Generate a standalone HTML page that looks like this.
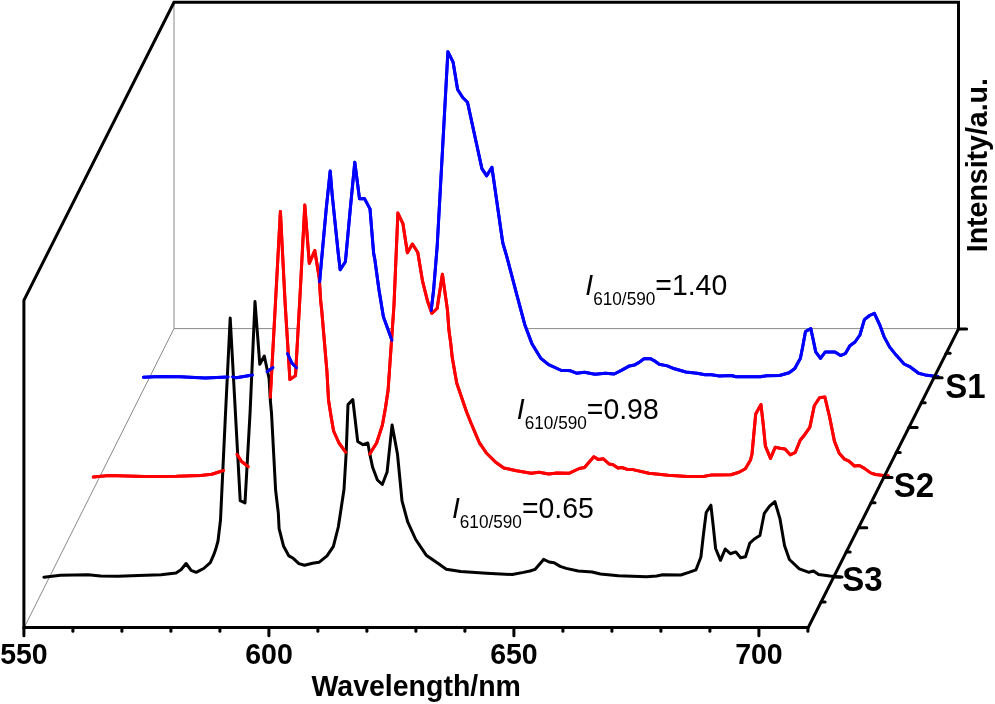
<!DOCTYPE html>
<html><head><meta charset="utf-8"><title>Emission spectra</title>
<style>html,body{margin:0;padding:0;background:#fff}svg{display:block}</style></head>
<body>
<svg width="995" height="704" viewBox="0 0 995 704">
<rect width="995" height="704" fill="#fff"/>
<g stroke="#8a8a8a" stroke-width="1" fill="none">
<line x1="174" y1="2" x2="174" y2="328.6"/>
<line x1="174" y1="328.6" x2="958.5" y2="328.6"/>
<line x1="174" y1="328.6" x2="24.2" y2="627.5"/>
</g>
<polygon points="143.4,377.2 143.4,377.2 160.0,376.5 180.0,376.8 205.0,378.0 228.2,376.9 232.5,376.9 236.3,377.7 252.5,375.1 260.0,374.5 267.0,371.7 273.0,367.5 279.0,358.0 283.0,350.5 285.5,349.5 287.5,353.6 291.6,362.7 296.5,367.7 302.0,367.0 308.0,360.0 313.0,340.0 317.0,310.0 319.6,281.8 322.2,253.0 326.2,209.1 330.2,170.9 332.2,195.0 338.2,253.0 340.2,269.8 345.4,261.7 350.0,212.0 354.8,162.2 359.5,198.7 364.5,198.6 370.0,208.9 373.6,253.0 374.8,259.3 379.0,290.0 383.4,316.8 391.9,340.2 400.0,350.0 410.0,355.0 420.0,350.0 427.0,335.0 431.2,310.4 433.6,290.0 437.2,246.0 443.0,141.0 447.9,51.7 453.1,62.2 457.6,89.5 462.7,97.5 467.5,102.3 472.3,124.4 477.1,146.5 481.9,168.6 486.7,175.8 491.9,167.3 500.9,230.0 502.8,243.0 507.0,257.3 516.7,294.3 524.9,325.0 531.8,343.4 540.6,358.1 548.6,364.6 561.5,370.5 567.9,370.5 570.0,370.7 576.4,373.2 584.5,372.3 594.9,374.3 605.4,373.2 614.2,374.0 621.4,370.4 629.5,365.9 634.3,365.1 639.1,362.4 644.0,358.7 650.4,358.7 654.4,360.8 659.2,364.3 667.3,365.9 674.5,368.8 685.8,372.0 697.0,373.2 705.0,374.8 711.5,374.8 719.5,375.9 731.3,375.5 736.1,376.8 760.2,376.8 766.6,375.7 779.5,375.5 789.1,372.8 794.8,368.5 800.4,358.3 802.8,346.3 805.5,331.5 810.8,328.6 813.2,339.8 815.7,351.9 820.5,358.3 825.3,351.9 835.0,351.9 840.6,355.6 845.4,353.5 849.9,345.7 855.0,342.0 859.9,335.0 864.4,319.7 869.5,315.5 874.4,313.3 880.0,325.5 884.0,336.6 889.7,347.1 896.1,355.1 904.1,364.0 910.6,367.2 918.6,373.3 925.0,374.9 933.1,376.0 938.0,376.4 938.0,377.2" fill="#fff" stroke="none"/>
<polyline points="143.4,377.2 160.0,376.5 180.0,376.8 205.0,378.0 228.2,376.9 232.5,376.9 236.3,377.7 252.5,375.1 260.0,374.5 267.0,371.7 273.0,367.5 279.0,358.0 283.0,350.5 285.5,349.5 287.5,353.6 291.6,362.7 296.5,367.7 302.0,367.0 308.0,360.0 313.0,340.0 317.0,310.0 319.6,281.8 322.2,253.0 326.2,209.1 330.2,170.9 332.2,195.0 338.2,253.0 340.2,269.8 345.4,261.7 350.0,212.0 354.8,162.2 359.5,198.7 364.5,198.6 370.0,208.9 373.6,253.0 374.8,259.3 379.0,290.0 383.4,316.8 391.9,340.2 400.0,350.0 410.0,355.0 420.0,350.0 427.0,335.0 431.2,310.4 433.6,290.0 437.2,246.0 443.0,141.0 447.9,51.7 453.1,62.2 457.6,89.5 462.7,97.5 467.5,102.3 472.3,124.4 477.1,146.5 481.9,168.6 486.7,175.8 491.9,167.3 500.9,230.0 502.8,243.0 507.0,257.3 516.7,294.3 524.9,325.0 531.8,343.4 540.6,358.1 548.6,364.6 561.5,370.5 567.9,370.5 570.0,370.7 576.4,373.2 584.5,372.3 594.9,374.3 605.4,373.2 614.2,374.0 621.4,370.4 629.5,365.9 634.3,365.1 639.1,362.4 644.0,358.7 650.4,358.7 654.4,360.8 659.2,364.3 667.3,365.9 674.5,368.8 685.8,372.0 697.0,373.2 705.0,374.8 711.5,374.8 719.5,375.9 731.3,375.5 736.1,376.8 760.2,376.8 766.6,375.7 779.5,375.5 789.1,372.8 794.8,368.5 800.4,358.3 802.8,346.3 805.5,331.5 810.8,328.6 813.2,339.8 815.7,351.9 820.5,358.3 825.3,351.9 835.0,351.9 840.6,355.6 845.4,353.5 849.9,345.7 855.0,342.0 859.9,335.0 864.4,319.7 869.5,315.5 874.4,313.3 880.0,325.5 884.0,336.6 889.7,347.1 896.1,355.1 904.1,364.0 910.6,367.2 918.6,373.3 925.0,374.9 933.1,376.0 938.0,376.4" fill="none" stroke="#0000ff" stroke-width="3" stroke-linejoin="round" stroke-linecap="round"/>

<polygon points="93.3,477.1 93.3,477.1 108.9,475.5 144.3,476.6 176.5,476.3 200.6,475.5 211.8,474.3 223.6,470.5 228.0,466.0 232.0,460.0 236.9,454.3 241.6,461.5 248.4,466.7 252.0,465.0 256.0,461.0 261.0,452.0 264.0,440.0 267.0,420.0 270.3,397.3 275.4,304.0 280.4,211.4 285.1,303.0 289.9,379.6 295.5,375.6 300.0,296.0 304.8,205.0 309.3,263.3 314.8,250.5 319.3,278.6 320.6,300.0 321.7,310.0 327.0,372.3 328.5,400.0 331.0,416.0 333.6,431.0 339.0,443.0 345.8,452.4 352.0,460.0 360.0,462.0 369.6,454.1 376.6,443.0 382.3,425.4 385.5,407.7 388.1,390.0 394.0,305.0 397.9,213.1 402.9,223.6 407.4,252.7 412.4,244.0 417.8,252.5 422.6,281.4 427.4,300.7 431.8,313.3 437.1,308.5 442.4,274.2 447.5,310.4 448.9,330.0 450.7,343.0 452.2,357.3 456.7,383.1 466.6,412.0 471.0,423.0 475.6,433.8 479.5,443.0 481.3,445.5 486.1,452.7 495.7,462.3 503.8,468.0 516.6,470.7 531.1,473.3 539.1,472.3 548.8,473.9 556.8,473.1 568.9,473.3 579.3,468.5 584.5,467.5 593.8,456.7 598.6,459.6 603.4,458.8 609.1,464.0 613.1,464.8 617.9,468.0 621.9,467.5 628.0,469.6 632.9,469.6 648.9,473.3 668.2,475.2 687.5,476.5 703.6,476.5 711.6,474.9 730.9,474.7 739.0,472.3 745.4,468.8 750.5,460.0 752.0,454.0 755.7,414.0 761.0,404.6 763.3,425.2 765.4,446.1 770.5,458.4 775.3,447.2 780.0,448.2 785.0,449.1 790.2,454.8 795.3,452.3 800.2,440.3 804.7,434.7 809.8,427.4 814.3,405.7 819.5,397.7 824.8,396.9 829.6,417.0 834.4,441.1 839.2,453.2 844.1,458.8 848.9,461.2 854.5,466.0 859.3,465.5 864.1,468.1 870.6,472.9 875.4,474.5 883.4,475.6 888.3,475.7 888.3,477.1" fill="#fff" stroke="none"/>
<polyline points="93.3,477.1 108.9,475.5 144.3,476.6 176.5,476.3 200.6,475.5 211.8,474.3 223.6,470.5 228.0,466.0 232.0,460.0 236.9,454.3 241.6,461.5 248.4,466.7 252.0,465.0 256.0,461.0 261.0,452.0 264.0,440.0 267.0,420.0 270.3,397.3 275.4,304.0 280.4,211.4 285.1,303.0 289.9,379.6 295.5,375.6 300.0,296.0 304.8,205.0 309.3,263.3 314.8,250.5 319.3,278.6 320.6,300.0 321.7,310.0 327.0,372.3 328.5,400.0 331.0,416.0 333.6,431.0 339.0,443.0 345.8,452.4 352.0,460.0 360.0,462.0 369.6,454.1 376.6,443.0 382.3,425.4 385.5,407.7 388.1,390.0 394.0,305.0 397.9,213.1 402.9,223.6 407.4,252.7 412.4,244.0 417.8,252.5 422.6,281.4 427.4,300.7 431.8,313.3 437.1,308.5 442.4,274.2 447.5,310.4 448.9,330.0 450.7,343.0 452.2,357.3 456.7,383.1 466.6,412.0 471.0,423.0 475.6,433.8 479.5,443.0 481.3,445.5 486.1,452.7 495.7,462.3 503.8,468.0 516.6,470.7 531.1,473.3 539.1,472.3 548.8,473.9 556.8,473.1 568.9,473.3 579.3,468.5 584.5,467.5 593.8,456.7 598.6,459.6 603.4,458.8 609.1,464.0 613.1,464.8 617.9,468.0 621.9,467.5 628.0,469.6 632.9,469.6 648.9,473.3 668.2,475.2 687.5,476.5 703.6,476.5 711.6,474.9 730.9,474.7 739.0,472.3 745.4,468.8 750.5,460.0 752.0,454.0 755.7,414.0 761.0,404.6 763.3,425.2 765.4,446.1 770.5,458.4 775.3,447.2 780.0,448.2 785.0,449.1 790.2,454.8 795.3,452.3 800.2,440.3 804.7,434.7 809.8,427.4 814.3,405.7 819.5,397.7 824.8,396.9 829.6,417.0 834.4,441.1 839.2,453.2 844.1,458.8 848.9,461.2 854.5,466.0 859.3,465.5 864.1,468.1 870.6,472.9 875.4,474.5 883.4,475.6 888.3,475.7" fill="none" stroke="#ff0000" stroke-width="3" stroke-linejoin="round" stroke-linecap="round"/>

<polygon points="43.9,577.3 43.9,577.2 60.4,575.3 88.0,574.8 100.6,576.0 118.2,576.3 138.3,575.5 161.0,574.8 176.0,573.0 181.0,569.8 186.1,563.5 191.1,570.3 196.2,572.3 200.0,570.4 203.7,568.5 210.3,562.6 213.8,554.7 216.1,547.9 218.0,541.0 220.5,520.0 225.3,418.0 230.2,318.0 235.2,409.0 240.2,500.7 245.0,502.9 250.1,412.0 255.0,301.6 259.8,364.3 264.3,356.0 269.1,378.8 270.3,400.0 271.5,413.0 275.6,490.0 278.3,513.0 279.1,528.6 283.6,546.3 288.9,555.9 293.2,558.3 298.9,563.6 304.5,565.2 312.5,563.2 319.0,562.3 327.0,555.9 333.4,546.3 338.3,527.0 341.2,508.0 344.0,489.5 346.2,452.5 348.0,404.6 352.8,399.5 357.7,441.4 363.0,444.7 367.8,443.0 370.2,455.9 372.6,467.2 377.4,480.0 382.3,484.5 387.1,472.0 389.8,446.3 392.1,425.0 397.5,454.3 400.0,480.0 402.0,500.9 407.7,521.8 415.7,539.5 426.2,555.2 438.2,563.6 446.3,569.2 460.7,571.6 486.5,573.2 512.2,574.5 523.4,572.4 530.0,571.0 535.0,569.4 543.6,559.4 549.1,562.0 554.1,562.8 560.2,566.4 566.2,568.4 578.2,571.0 592.3,572.0 600.4,574.0 618.4,575.8 646.6,576.8 656.6,576.0 662.7,574.8 680.8,575.0 688.8,572.4 696.0,569.8 700.9,557.0 703.5,534.0 706.2,512.5 710.9,505.2 713.3,526.6 715.6,548.5 720.5,560.3 725.2,549.0 730.3,553.7 735.8,551.9 740.6,557.8 745.5,556.7 749.8,543.1 754.3,539.0 759.9,535.5 764.3,513.3 769.6,506.1 774.9,501.6 780.0,518.9 784.5,545.5 789.4,559.5 799.3,568.8 809.0,572.3 813.5,570.9 818.6,574.4 829.9,576.0 834.7,576.5 840.0,577.0 840.0,577.3" fill="#fff" stroke="none"/>
<polyline points="43.9,577.2 60.4,575.3 88.0,574.8 100.6,576.0 118.2,576.3 138.3,575.5 161.0,574.8 176.0,573.0 181.0,569.8 186.1,563.5 191.1,570.3 196.2,572.3 200.0,570.4 203.7,568.5 210.3,562.6 213.8,554.7 216.1,547.9 218.0,541.0 220.5,520.0 225.3,418.0 230.2,318.0 235.2,409.0 240.2,500.7 245.0,502.9 250.1,412.0 255.0,301.6 259.8,364.3 264.3,356.0 269.1,378.8 270.3,400.0 271.5,413.0 275.6,490.0 278.3,513.0 279.1,528.6 283.6,546.3 288.9,555.9 293.2,558.3 298.9,563.6 304.5,565.2 312.5,563.2 319.0,562.3 327.0,555.9 333.4,546.3 338.3,527.0 341.2,508.0 344.0,489.5 346.2,452.5 348.0,404.6 352.8,399.5 357.7,441.4 363.0,444.7 367.8,443.0 370.2,455.9 372.6,467.2 377.4,480.0 382.3,484.5 387.1,472.0 389.8,446.3 392.1,425.0 397.5,454.3 400.0,480.0 402.0,500.9 407.7,521.8 415.7,539.5 426.2,555.2 438.2,563.6 446.3,569.2 460.7,571.6 486.5,573.2 512.2,574.5 523.4,572.4 530.0,571.0 535.0,569.4 543.6,559.4 549.1,562.0 554.1,562.8 560.2,566.4 566.2,568.4 578.2,571.0 592.3,572.0 600.4,574.0 618.4,575.8 646.6,576.8 656.6,576.0 662.7,574.8 680.8,575.0 688.8,572.4 696.0,569.8 700.9,557.0 703.5,534.0 706.2,512.5 710.9,505.2 713.3,526.6 715.6,548.5 720.5,560.3 725.2,549.0 730.3,553.7 735.8,551.9 740.6,557.8 745.5,556.7 749.8,543.1 754.3,539.0 759.9,535.5 764.3,513.3 769.6,506.1 774.9,501.6 780.0,518.9 784.5,545.5 789.4,559.5 799.3,568.8 809.0,572.3 813.5,570.9 818.6,574.4 829.9,576.0 834.7,576.5 840.0,577.0" fill="none" stroke="#000000" stroke-width="3" stroke-linejoin="round" stroke-linecap="round"/>

<line x1="387.5" y1="328.6" x2="392" y2="328.6" stroke="#8a8a8a" stroke-width="1"/>
<polyline points="93.3,477.1 108.9,475.5 144.3,476.6 176.5,476.3 200.6,475.5 211.8,474.3 223.6,470.5" fill="none" stroke="#ff0000" stroke-width="3" stroke-linejoin="round" stroke-linecap="round"/>
<polyline points="236.9,454.3 241.6,461.5 248.4,466.7" fill="none" stroke="#ff0000" stroke-width="3" stroke-linejoin="round" stroke-linecap="round"/>
<polyline points="270.3,397.3 275.4,304.0 280.4,211.4 285.1,303.0 289.9,379.6 295.5,375.6 300.0,296.0 304.8,205.0 309.3,263.3 314.8,250.5 319.3,278.6 320.6,300.0 321.7,310.0 327.0,372.3 328.5,400.0 331.0,416.0 333.6,431.0 339.0,443.0 345.8,452.4" fill="none" stroke="#ff0000" stroke-width="3" stroke-linejoin="round" stroke-linecap="round"/>
<polyline points="369.6,454.1 376.6,443.0 382.3,425.4 385.5,407.7 388.1,390.0 394.0,305.0 397.9,213.1 402.9,223.6 407.4,252.7 412.4,244.0 417.8,252.5 422.6,281.4 427.4,300.7 431.8,313.3 437.1,308.5 442.4,274.2 447.5,310.4 448.9,330.0 450.7,343.0 452.2,357.3 456.7,383.1 466.6,412.0 471.0,423.0 475.6,433.8 479.5,443.0 481.3,445.5 486.1,452.7 495.7,462.3 503.8,468.0 516.6,470.7 531.1,473.3 539.1,472.3 548.8,473.9 556.8,473.1 568.9,473.3 579.3,468.5 584.5,467.5 593.8,456.7 598.6,459.6 603.4,458.8 609.1,464.0 613.1,464.8 617.9,468.0 621.9,467.5 628.0,469.6 632.9,469.6 648.9,473.3 668.2,475.2 687.5,476.5 703.6,476.5 711.6,474.9 730.9,474.7 739.0,472.3 745.4,468.8 750.5,460.0 752.0,454.0 755.7,414.0 761.0,404.6 763.3,425.2 765.4,446.1 770.5,458.4 775.3,447.2 780.0,448.2 785.0,449.1 790.2,454.8 795.3,452.3 800.2,440.3 804.7,434.7 809.8,427.4 814.3,405.7 819.5,397.7 824.8,396.9 829.6,417.0 834.4,441.1 839.2,453.2 844.1,458.8 848.9,461.2 854.5,466.0 859.3,465.5 864.1,468.1 870.6,472.9 875.4,474.5 883.4,475.6 888.3,475.7" fill="none" stroke="#ff0000" stroke-width="3" stroke-linejoin="round" stroke-linecap="round"/>
<polyline points="143.4,377.2 160.0,376.5 180.0,376.8 205.0,378.0 228.2,376.9" fill="none" stroke="#0000ff" stroke-width="3" stroke-linejoin="round" stroke-linecap="round"/>
<polyline points="232.5,376.9 236.3,377.7 252.5,375.1" fill="none" stroke="#0000ff" stroke-width="3" stroke-linejoin="round" stroke-linecap="round"/>
<polyline points="267.0,371.7 273.0,367.5" fill="none" stroke="#0000ff" stroke-width="3" stroke-linejoin="round" stroke-linecap="round"/>
<polyline points="287.5,353.6 291.6,362.7 296.5,367.7" fill="none" stroke="#0000ff" stroke-width="3" stroke-linejoin="round" stroke-linecap="round"/>
<polyline points="319.6,281.8 322.2,253.0 326.2,209.1 330.2,170.9 332.2,195.0 338.2,253.0 340.2,269.8 345.4,261.7 350.0,212.0 354.8,162.2 359.5,198.7 364.5,198.6 370.0,208.9 373.6,253.0 374.8,259.3 379.0,290.0 383.4,316.8 391.9,340.2" fill="none" stroke="#0000ff" stroke-width="3" stroke-linejoin="round" stroke-linecap="round"/>
<polyline points="431.2,310.4 433.6,290.0 437.2,246.0 443.0,141.0 447.9,51.7 453.1,62.2 457.6,89.5 462.7,97.5 467.5,102.3 472.3,124.4 477.1,146.5 481.9,168.6 486.7,175.8 491.9,167.3 500.9,230.0 502.8,243.0 507.0,257.3 516.7,294.3 524.9,325.0 531.8,343.4 540.6,358.1 548.6,364.6 561.5,370.5 567.9,370.5 570.0,370.7 576.4,373.2 584.5,372.3 594.9,374.3 605.4,373.2 614.2,374.0 621.4,370.4 629.5,365.9 634.3,365.1 639.1,362.4 644.0,358.7 650.4,358.7 654.4,360.8 659.2,364.3 667.3,365.9 674.5,368.8 685.8,372.0 697.0,373.2 705.0,374.8 711.5,374.8 719.5,375.9 731.3,375.5 736.1,376.8 760.2,376.8 766.6,375.7 779.5,375.5 789.1,372.8 794.8,368.5 800.4,358.3 802.8,346.3 805.5,331.5 810.8,328.6 813.2,339.8 815.7,351.9 820.5,358.3 825.3,351.9 835.0,351.9 840.6,355.6 845.4,353.5 849.9,345.7 855.0,342.0 859.9,335.0 864.4,319.7 869.5,315.5 874.4,313.3 880.0,325.5 884.0,336.6 889.7,347.1 896.1,355.1 904.1,364.0 910.6,367.2 918.6,373.3 925.0,374.9 933.1,376.0 938.0,376.4" fill="none" stroke="#0000ff" stroke-width="3" stroke-linejoin="round" stroke-linecap="round"/>
<g stroke="#000" stroke-width="3" fill="none" stroke-linecap="butt" stroke-linejoin="miter">
<polygon points="23.9,627.5 23.9,300.3 174,2.3 958.5,2.3 958.5,328.9 808.3,627.5" />
<line x1="23.9" y1="627.5" x2="23.9" y2="635.8" stroke-linecap="round"/>
<line x1="72.9" y1="627.5" x2="72.9" y2="631.2" stroke-linecap="round"/>
<line x1="121.9" y1="627.5" x2="121.9" y2="631.2" stroke-linecap="round"/>
<line x1="170.9" y1="627.5" x2="170.9" y2="631.2" stroke-linecap="round"/>
<line x1="219.9" y1="627.5" x2="219.9" y2="631.2" stroke-linecap="round"/>
<line x1="268.9" y1="627.5" x2="268.9" y2="635.8" stroke-linecap="round"/>
<line x1="317.9" y1="627.5" x2="317.9" y2="631.2" stroke-linecap="round"/>
<line x1="366.9" y1="627.5" x2="366.9" y2="631.2" stroke-linecap="round"/>
<line x1="415.9" y1="627.5" x2="415.9" y2="631.2" stroke-linecap="round"/>
<line x1="464.9" y1="627.5" x2="464.9" y2="631.2" stroke-linecap="round"/>
<line x1="513.9" y1="627.5" x2="513.9" y2="635.8" stroke-linecap="round"/>
<line x1="562.9" y1="627.5" x2="562.9" y2="631.2" stroke-linecap="round"/>
<line x1="611.9" y1="627.5" x2="611.9" y2="631.2" stroke-linecap="round"/>
<line x1="660.9" y1="627.5" x2="660.9" y2="631.2" stroke-linecap="round"/>
<line x1="709.9" y1="627.5" x2="709.9" y2="631.2" stroke-linecap="round"/>
<line x1="758.9" y1="627.5" x2="758.9" y2="635.8" stroke-linecap="round"/>
<line x1="807.9" y1="627.5" x2="807.9" y2="631.2" stroke-linecap="round"/>
<line x1="958.3" y1="328.9" x2="966.6" y2="328.9" stroke-linecap="round"/>
<line x1="946.1" y1="353.3" x2="950.1" y2="353.3" stroke-linecap="round"/>
<line x1="933.8" y1="377.8" x2="942.1" y2="377.8" stroke-linecap="round"/>
<line x1="921.2" y1="402.8" x2="925.2" y2="402.8" stroke-linecap="round"/>
<line x1="908.8" y1="427.5" x2="917.1" y2="427.5" stroke-linecap="round"/>
<line x1="896.2" y1="452.5" x2="900.2" y2="452.5" stroke-linecap="round"/>
<line x1="883.7" y1="477.5" x2="892.0" y2="477.5" stroke-linecap="round"/>
<line x1="871.0" y1="502.7" x2="875.0" y2="502.7" stroke-linecap="round"/>
<line x1="858.5" y1="527.7" x2="866.8" y2="527.7" stroke-linecap="round"/>
<line x1="846.2" y1="552" x2="850.2" y2="552" stroke-linecap="round"/>
<line x1="833.7" y1="576.9" x2="842.0" y2="576.9" stroke-linecap="round"/>
<line x1="821.1" y1="602" x2="825.1" y2="602" stroke-linecap="round"/>
</g>
<g font-family="'Liberation Sans', sans-serif" fill="#000">
<text transform="translate(23.9,664.2) scale(1,1.04)" font-size="28.5" text-anchor="middle" font-weight="bold">550</text>
<text transform="translate(269,664.2) scale(1,1.04)" font-size="28.5" text-anchor="middle" font-weight="bold">600</text>
<text transform="translate(513.9,664.2) scale(1,1.04)" font-size="28.5" text-anchor="middle" font-weight="bold">650</text>
<text transform="translate(758.9,664.2) scale(1,1.04)" font-size="28.5" text-anchor="middle" font-weight="bold">700</text>
<text transform="translate(416.2,696.4) scale(1,1.04)" font-size="28.5" text-anchor="middle" font-weight="bold">Wavelength/nm</text>
<text transform="translate(986.5,165.2) rotate(-90) scale(1,1.04)" font-size="28.5" text-anchor="middle" font-weight="bold">Intensity/a.u.</text>
<text transform="translate(945.2,397.7) scale(1,1.04)" font-size="33" text-anchor="start" font-weight="bold">S1</text>
<text transform="translate(893.7,497) scale(1,1.04)" font-size="33" text-anchor="start" font-weight="bold">S2</text>
<text transform="translate(842.3,591.2) scale(1,1.04)" font-size="33" text-anchor="start" font-weight="bold">S3</text>
<text transform="translate(585.3,295.4) scale(1,1.04)" font-size="28.4" text-anchor="start"><tspan font-style="italic">I</tspan><tspan font-size="17.2" dy="9.4">610/590</tspan><tspan dy="-9.4">=1.40</tspan></text>
<text transform="translate(516.8,419.2) scale(1,1.04)" font-size="28.4" text-anchor="start"><tspan font-style="italic">I</tspan><tspan font-size="17.2" dy="9.4">610/590</tspan><tspan dy="-9.4">=0.98</tspan></text>
<text transform="translate(451.9,518.4) scale(1,1.04)" font-size="28.4" text-anchor="start"><tspan font-style="italic">I</tspan><tspan font-size="17.2" dy="9.4">610/590</tspan><tspan dy="-9.4">=0.65</tspan></text>
</g>
</svg>
</body></html>
